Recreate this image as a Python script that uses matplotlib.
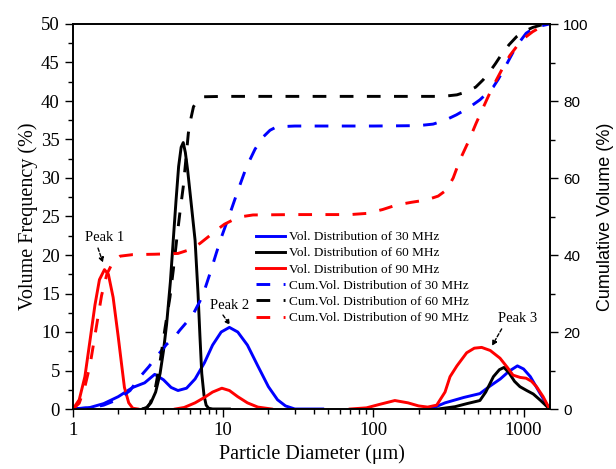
import numpy as np
import matplotlib
matplotlib.use("Agg")
import matplotlib.pyplot as plt
from matplotlib.ticker import MultipleLocator, LogLocator, NullFormatter, FixedLocator, FixedFormatter

nan = np.nan

# ---- data: volume frequency (%) ----
vol30_x = [1.0, 1.3, 1.6, 2.0, 2.5, 3.0, 3.5, 4.0, 4.5, 5.0, 5.7, 6.5, 7.5, 8.5, 9.7, 11.0, 12.5, 14.5, 17, 20, 23, 26, 30, 46,
           nan, 240, 300, 400, 512, 600, 700, 800, 910, 1000, 1110, 1290, 1490]
vol30_y = [0, 0.2, 0.7, 1.6, 2.8, 3.4, 4.5, 3.8, 2.8, 2.4, 2.7, 3.9, 6.0, 8.3, 10.0, 10.6, 10.0, 8.3, 5.6, 2.9, 1.2, 0.4, 0, 0,
           nan, 0, 0.8, 1.5, 2.0, 3.0, 3.9, 4.9, 5.6, 5.2, 4.2, 2.0, 0]

vol60_x = [2.9, 3.1, 3.3, 3.55, 3.8, 4.0, 4.2, 4.45, 4.65, 4.85, 5.05, 5.25, 5.42, 5.6, 5.8, 6.1, 6.5, 6.8, 7.0, 7.2, 7.45,
           7.7, 8.0, 8.5, 11, nan, 270, 350, 420, 512, 560, 630, 690, 741, 800, 870, 946, 1050, 1160, 1300, 1490]
vol60_y = [0, 0.2, 0.8, 2.2, 4.6, 7.5, 11, 16.5, 21.9, 27, 31.5, 34, 34.6, 33.3, 31, 27, 21.9, 15, 9.5, 4.6, 1.8,
           0.5, 0.1, 0, 0, nan, 0, 0.3, 0.7, 1.1, 2.2, 4.2, 5.1, 5.4, 4.7, 3.6, 2.9, 2.4, 1.95, 1.1, 0]

vol90_x = [1.0, 1.1, 1.2, 1.3, 1.4, 1.5, 1.62, 1.72, 1.85, 2.0, 2.1, 2.2, 2.35, 2.5, 2.7,
           nan, 4.8, 5.5, 6.5, 7.5, 8.5, 9.8, 11, 12.5, 14.5, 17, 21,
           nan, 70, 90, 110, 139, 170, 200, 230, 264, 300, 324, 360, 418, 470, 526, 600, 697, 780, 850, 950, 1040,
           1130, 1220, 1350, 1490]
vol90_y = [0, 1.2, 4.2, 9.0, 13.5, 16.8, 18.1, 17.5, 14.5, 9.4, 6.0, 2.8, 0.8, 0.1, 0,
           nan, 0, 0.2, 0.8, 1.5, 2.2, 2.7, 2.4, 1.6, 0.8, 0.25, 0,
           nan, 0, 0.15, 0.6, 1.1, 0.8, 0.4, 0.25, 0.5, 2.2, 4.2, 5.6, 7.3, 7.9, 8.0, 7.6, 6.6, 5.4, 4.4, 4.1, 4.0,
           3.6, 2.9, 1.6, 0]

# ---- data: cumulative volume (%) ----
cum30_x = [1.0, 1.3, 1.6, 2.0, 2.4, 2.8, 3.2, 3.6, 4.2, 4.7, 5.15, 5.7, 6.34, 7.0, 7.6, 8.17, 9.0, 9.77, 11.1, 12.6, 14.3,
           16.3, 18.5, 20.5, 22.7, 30, 100, 200, 250, 300, 357, 430, 512, 570, 630, 680, 734, 790, 855, 940, 1040, 1200, 1490]
cum30_y = [0, 0.3, 1.0, 2.5, 4.8, 8.4, 11, 13.6, 16.8, 18.5, 20.5, 22.5, 24.8, 28, 31.5, 35.2, 40.5, 44.8, 50.8, 57, 62.9,
           67.5, 70.7, 72.4, 73.3, 73.5, 73.5, 73.6, 74, 75, 76.4, 78.2, 80.3, 82, 83.7, 85.7, 88, 90.3, 92.8, 95.3, 97.6, 99.2, 100]

cum60_x = [2.9, 3.1, 3.26, 3.5, 3.79, 4.1, 4.42, 4.65, 4.9, 5.15, 5.42, 5.65, 5.86, 6.1, 6.34, 6.8, 7.4, 10, 100, 290,
           360, 418, 480, 538, 600, 650, 697, 800, 898, 1000, 1150, 1300, 1490]
cum60_y = [0, 0.3, 1.5, 4.5, 12, 21, 29, 36, 43.9, 51, 57.7, 65, 71.6, 75.5, 78.5, 80.3, 81.1, 81.2, 81.2, 81.2,
           81.6, 82.4, 83.6, 85.5, 87.8, 89.7, 91.5, 94.6, 96.7, 98.0, 99.1, 99.7, 100]

cum90_x = [1.0, 1.1, 1.2, 1.3, 1.44, 1.55, 1.68, 1.85, 2.06, 2.5, 3.5, 5.0, 6.0, 7.0, 8.0, 9.06, 10.2, 11.6, 13.5, 15.8,
           30, 70, 90, 115, 143, 180, 226, 270, 307, 340, 377, 430, 483, 540, 595, 660, 734, 810, 898, 1000, 1150, 1300, 1490]
cum90_y = [0, 1.5, 5.8, 11.5, 22, 29.5, 35, 38.3, 39.7, 40.1, 40.2, 40.4, 41.4, 43, 44.8, 46.5, 48, 49.1, 50, 50.4,
           50.5, 50.5, 50.8, 51.8, 53, 53.7, 54.3, 55.3, 56.9, 60, 64.7, 69.5, 74.2, 78.4, 82, 85.5, 88.9, 91.8, 94.1, 96.2, 98, 99.2, 100]

labels_vol = ["Vol. Distribution of 30 MHz", "Vol. Distribution of 60 MHz", "Vol. Distribution of 90 MHz"]
labels_cum = ["Cum.Vol. Distribution of 30 MHz", "Cum.Vol. Distribution of 60 MHz", "Cum.Vol. Distribution of 90 MHz"]
colors = ["#0000FF", "#000000", "#FF0000"]

peak_labels = ["Peak 1", "Peak 2", "Peak 3"]
peak_text_xy = [(1.633, 22.3), (11.1, 13.5), (910, 11.8)]
peak_tail_xy = [(1.467, 20.9), (9.97, 12.2), (715, 10.4)]
peak_head_xy = [(1.584, 19.0), (11.1, 10.9), (616, 8.2)]

SERIF = "Liberation Serif"
SANS = "Liberation Sans"

fig = plt.figure(figsize=(6.16, 4.69), dpi=100)
ax = fig.add_axes([73 / 616, 60 / 469, 477 / 616, 385 / 469])
ax2 = ax.twinx()

lw = 2.1
dash = (0, (4.7, 4.6))

handles = []
for xs, ys, c, lab in zip([vol30_x, vol60_x, vol90_x], [vol30_y, vol60_y, vol90_y], colors, labels_vol):
    h, = ax.plot(xs, ys, color=c, lw=lw, label=lab, solid_joinstyle="round")
    handles.append(h)
for xs, ys, c, lab in zip([cum30_x, cum60_x, cum90_x], [cum30_y, cum60_y, cum90_y], colors, labels_cum):
    h, = ax2.plot(xs, ys, color=c, lw=lw, linestyle=dash, label=lab)
    handles.append(h)

ax.set_xscale("log")
ax.set_xlim(1, 1500)
ax.set_ylim(0, 50)
ax2.set_ylim(0, 100)

ax.yaxis.set_major_locator(MultipleLocator(5))
ax.yaxis.set_minor_locator(MultipleLocator(2.5))
ax2.yaxis.set_major_locator(MultipleLocator(20))
ax2.yaxis.set_minor_locator(MultipleLocator(10))
ax.xaxis.set_major_locator(FixedLocator([1, 10, 100, 1000]))
ax.xaxis.set_major_formatter(FixedFormatter(["1", "10", "100", "1000"]))
ax.xaxis.set_minor_locator(LogLocator(base=10, subs=np.arange(2, 10)))
ax.xaxis.set_minor_formatter(NullFormatter())

for a in (ax, ax2):
    a.tick_params(which="major", direction="out", length=6, width=1.0)
    a.tick_params(which="minor", direction="out", length=3.5, width=1.0)
    for s in a.spines.values():
        s.set_linewidth(1.2)

ax.tick_params(axis="both", labelsize=13.5)
for t in ax.get_xticklabels() + ax.get_yticklabels():
    t.set_fontfamily(SERIF)
ax2.tick_params(axis="y", labelsize=11)
for t in ax2.get_yticklabels():
    t.set_fontfamily(SANS)

ax.set_xlabel("Particle Diameter (\u03bcm)", fontfamily=SERIF, fontsize=14.5, labelpad=4)
ax.set_ylabel("Volume Frequency (%)", fontfamily=SERIF, fontsize=14.5, labelpad=2)
ax2.set_ylabel("Cumulative Volume (%)", fontfamily=SANS, fontsize=13, labelpad=6)

leg = ax2.legend(handles=handles, loc="center left", bbox_to_anchor=(0.3753, 0.3413),
                 prop={"family": SERIF, "size": 9.5}, frameon=True, fancybox=False,
                 framealpha=1.0, facecolor="white", edgecolor="none",
                 borderpad=0.3, borderaxespad=0, handlelength=2.2, handletextpad=0.3,
                 labelspacing=0.3)

for lab, txy, tail, head in zip(peak_labels, peak_text_xy, peak_tail_xy, peak_head_xy):
    ax.text(txy[0], txy[1], lab, fontfamily=SERIF, fontsize=10.5, ha="center", va="center")
    ax.annotate("", xy=head, xytext=tail,
                arrowprops=dict(arrowstyle="-|>", linestyle=(0, (2.5, 1.5)), lw=1.0, color="black",
                                mutation_scale=7, shrinkA=0, shrinkB=0))

fig.savefig("out.png", dpi=100)
